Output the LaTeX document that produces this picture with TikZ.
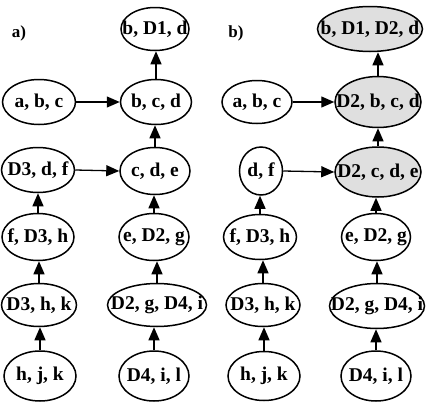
\documentclass[tikz,border=0pt]{standalone}
\usepackage{fontspec}
\setmainfont{Liberation Serif}
\usetikzlibrary{shapes.geometric,arrows.meta}
\newcommand\zb[1]{\makebox[0pt][c]{#1}}
\begin{document}
\begin{tikzpicture}[x=1pt,y=-1pt,
  el/.style={ellipse,draw,line width=1.5pt,inner sep=0pt,font=\bfseries\fontsize{19.5}{22}\selectfont},
  sh/.style={fill=gray!25},
  arr/.style={line width=1.3pt,-{Triangle[length=13pt,width=11pt]}},
  lab/.style={font=\bfseries\fontsize{17}{19}\selectfont}]
\useasboundingbox (0,0) rectangle (426,407);
% panel a
\node[lab] (la) at (19,33) {a)};
\node[el,minimum width=68,minimum height=43] (a1) at (155,29) {\zb{b, D1, d}};
\node[el,minimum width=73,minimum height=45] (a2) at (39,102) {\zb{a, b, c}};
\node[el,minimum width=71,minimum height=45] (a3) at (156,102) {\zb{b, c, d}};
\node[el,minimum width=73,minimum height=45] (a4) at (38,170) {\zb{D3, d, f}};
\node[el,minimum width=70,minimum height=47] (a5) at (155,171) {\zb{c, d, e}};
\node[el,minimum width=72,minimum height=47] (a6) at (38,237) {\zb{f, D3, h}};
\node[el,minimum width=75,minimum height=43] (a7) at (39,305) {\zb{D3, h, k}};
\node[el,minimum width=72,minimum height=50] (a8) at (40,376) {\zb{h, j, k}};
\node[el,minimum width=70,minimum height=47] (a9) at (154,237) {\zb{e, D2, g}};
\node[el,minimum width=99,minimum height=43] (a10) at (157,305) {\zb{D2, g, D4, i}};
\node[el,minimum width=70,minimum height=50] (a11) at (154,376) {\zb{D4, i, l}};
% panel b
\node[lab] (lb) at (236,33) {b)};
\node[el,sh,minimum width=105,minimum height=45] (b1) at (370,29) {\zb{b, D1, D2, d}};
\node[el,minimum width=70,minimum height=43] (b2) at (257,102) {\zb{a, b, c}};
\node[el,sh,minimum width=86,minimum height=51] (b3) at (378,102) {\zb{D2, b, c, d}};
\node[el,minimum width=43,minimum height=48] (b4) at (261,171) {\zb{d, f}};
\node[el,sh,minimum width=86,minimum height=50] (b5) at (378,172) {\zb{D2, c, d, e}};
\node[el,minimum width=73,minimum height=45] (b6) at (260,237) {\zb{f, D3, h}};
\node[el,minimum width=74,minimum height=43] (b7) at (263,305) {\zb{D3, h, k}};
\node[el,minimum width=72,minimum height=49] (b8) at (264,376) {\zb{h, j, k}};
\node[el,minimum width=69,minimum height=47] (b9) at (376,237) {\zb{e, D2, g}};
\node[el,minimum width=95,minimum height=45] (b10) at (377,306) {\zb{D2, g, D4, i}};
\node[el,minimum width=70,minimum height=50] (b11) at (376,376) {\zb{D4, i, l}};
% arrows a
\draw[arr] (a8.north) -- (a8.north |- a7.south);
\draw[arr] (a7.north) -- (a7.north |- a6.south);
\draw[arr] (a6.north) -- (a6.north |- a4.south);
\draw[arr] (a4.east) -- (a5.west);
\draw[arr] (a2.east) -- (a3.west);
\draw[arr] (a11.north) -- (a11.north |- a10.south);
\draw[arr] (a10.north) -- (a10.north |- a9.south);
\draw[arr] (a9.north) -- (a9.north |- a5.south);
\draw[arr] (a5.north) -- (a5.north |- a3.south);
\draw[arr] (a3.north) -- (a3.north |- a1.south);
% arrows b
\draw[arr] (b8.north) -- (b8.north |- b7.south);
\draw[arr] (b7.north) -- (b7.north |- b6.south);
\draw[arr] (b6.north) -- (b6.north |- b4.south);
\draw[arr] (b4.east) -- (b5.west);
\draw[arr] (b2.east) -- (b3.west);
\draw[arr] (b11.north) -- (b11.north |- b10.south);
\draw[arr] (b10.north) -- (b10.north |- b9.south);
\draw[arr] (b9.north) -- (b9.north |- b5.south);
\draw[arr] (b5.north) -- (b5.north |- b3.south);
\draw[arr] (b3.north) -- (b3.north |- b1.south);
\end{tikzpicture}
\end{document}
